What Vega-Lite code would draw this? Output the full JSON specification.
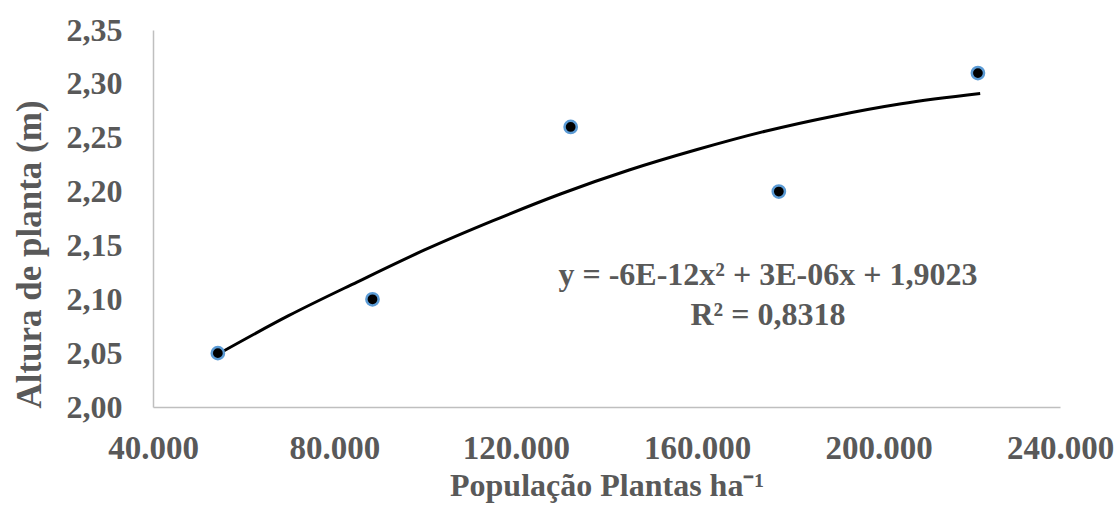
{
  "$schema": "https://vega.github.io/schema/vega-lite/v6.json",
  "width": 907,
  "height": 377,
  "autosize": "none",
  "padding": {"left": 153, "top": 30, "right": 58, "bottom": 102},
  "background": "white",
  "config": {
    "view": {"stroke": null},
    "font": "Liberation Serif"
  },
  "datasets": {
    "pontos": [
      {"pop": 54300, "altura": 2.05},
      {"pop": 88400, "altura": 2.10},
      {"pop": 132100, "altura": 2.26},
      {"pop": 178000, "altura": 2.20},
      {"pop": 221900, "altura": 2.31}
    ],
    "tendencia": [
      {"pop": 54300, "altura": 2.049},
      {"pop": 70000, "altura": 2.085},
      {"pop": 85000, "altura": 2.116},
      {"pop": 100000, "altura": 2.146},
      {"pop": 115000, "altura": 2.173},
      {"pop": 130000, "altura": 2.198},
      {"pop": 145000, "altura": 2.220},
      {"pop": 160000, "altura": 2.239},
      {"pop": 175000, "altura": 2.256},
      {"pop": 190000, "altura": 2.270},
      {"pop": 205000, "altura": 2.2815},
      {"pop": 222400, "altura": 2.291}
    ],
    "equacao": [
      {"pop": 175600, "altura": 2.113, "texto": "y = -6E-12x² + 3E-06x + 1,9023"},
      {"pop": 175600, "altura": 2.076, "texto": "R² = 0,8318"}
    ]
  },
  "encoding": {
    "x": {
      "field": "pop",
      "type": "quantitative",
      "scale": {"domain": [40000, 240000], "nice": false, "zero": false},
      "axis": {
        "title": "População Plantas ha⁻¹",
        "values": [40000, 80000, 120000, 160000, 200000, 240000],
        "labelExpr": "(datum.value / 1000) + '.000'",
        "grid": false,
        "ticks": false,
        "domainColor": "#bfbfbf",
        "domainWidth": 1.5,
        "labelFont": "Liberation Serif",
        "labelFontWeight": "bold",
        "labelFontSize": 33,
        "labelColor": "#595959",
        "labelPadding": 25,
        "labelFlush": false,
        "labelOverlap": false,
        "titleFont": "Liberation Serif",
        "titleFontWeight": "bold",
        "titleFontSize": 32,
        "titleColor": "#595959",
        "titleBaseline": "alphabetic",
        "titleY": 88
      }
    },
    "y": {
      "field": "altura",
      "type": "quantitative",
      "scale": {"domain": [2.0, 2.35], "nice": false, "zero": false},
      "axis": {
        "title": "Altura de planta (m)",
        "values": [2.0, 2.05, 2.1, 2.15, 2.2, 2.25, 2.3, 2.35],
        "labelExpr": "replace(format(datum.value, '.2f'), '.', ',')",
        "grid": false,
        "ticks": false,
        "domainColor": "#bfbfbf",
        "domainWidth": 1.5,
        "labelFont": "Liberation Serif",
        "labelFontWeight": "bold",
        "labelFontSize": 32,
        "labelColor": "#595959",
        "labelPadding": 31,
        "labelOverlap": false,
        "titleFont": "Liberation Serif",
        "titleFontWeight": "bold",
        "titleFontSize": 35,
        "titleColor": "#595959",
        "titleAngle": 270,
        "titleBaseline": "middle",
        "titleAlign": "center",
        "titleX": -124,
        "titleY": 224
      }
    }
  },
  "layer": [
    {
      "data": {"name": "tendencia"},
      "mark": {"type": "line", "color": "black", "strokeWidth": 3, "interpolate": "monotone"}
    },
    {
      "data": {"name": "pontos"},
      "mark": {"type": "point", "shape": "circle", "filled": true, "fill": "black", "stroke": "#5B9BD5", "strokeWidth": 2.5, "size": 150, "opacity": 1}
    },
    {
      "data": {"name": "equacao"},
      "mark": {"type": "text", "font": "Liberation Serif", "fontWeight": "bold", "fontSize": 32, "color": "#595959", "align": "center", "baseline": "alphabetic"},
      "encoding": {"text": {"field": "texto"}}
    }
  ]
}
